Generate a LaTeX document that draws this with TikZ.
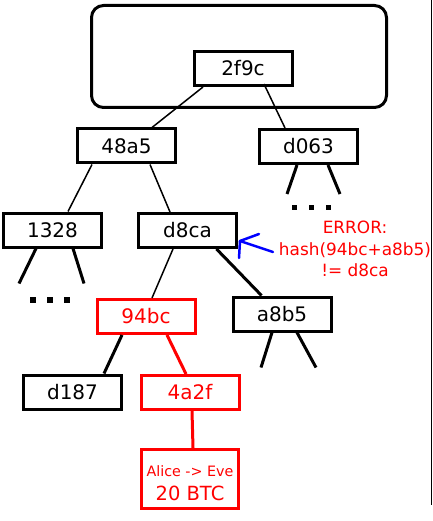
\documentclass[tikz,border=0pt]{standalone}
\usepackage{fontspec}
\setmainfont{DejaVu Sans}
\usetikzlibrary{calc}
\begin{document}
\begin{tikzpicture}[x=1pt,y=-1pt,
  box/.style={draw, line width=3pt, minimum width=98pt, minimum height=34pt, inner sep=0pt,
    font=\fontsize{20}{23}\selectfont},
  redbox/.style={box, draw=red, text=red},
  thinline/.style={line width=1.5pt},
  thickline/.style={line width=3pt},
  redline/.style={line width=3pt, red},
  dotsq/.style={fill=black, draw=none, minimum size=6pt, inner sep=0pt},
]
\useasboundingbox (0,0) rectangle (432,521);
% frame around root
\draw[line width=3pt, rounded corners=12pt] (91.5,5.5) rectangle (386.5,107.5);
\draw[line width=1pt] (431,0) -- (431,505);
% nodes
\node[box] (r) at (243,68.5) {2f9c};
\node[box] (a) at (126.5,146) {48a5};
\node[box] (b) at (308.5,146.5) {d063};
\node[box] (c) at (52.5,230) {1328};
\node[box] (d) at (187.5,230.5) {d8ca};
\node[redbox] (e) at (146,316.5) {94bc};
\node[box] (f) at (282,314) {a8b5};
\node[box] (g) at (72.5,392) {d187};
\node[redbox] (h) at (190,392.5) {4a2f};
\node[redbox, minimum width=97pt, minimum height=59pt] (t) at (190,479) {};
\node[text=red, align=center, inner sep=0pt, font=\fontsize{19.5}{24}\selectfont] (tt) at ($(t.center)+(0,4)$)
  {{\fontsize{14.3}{17}\selectfont Alice -> Eve}\\20 BTC};
\node[text=red, align=center, font=\fontsize{16.9}{21.5}\selectfont] (err) at (355,249)
  {ERROR:\\hash(94bc+a8b5)\\!= d8ca};
% edges
\draw[thinline] ($(r.south)+(-40,0)$) -- ($(a.north)+(25.5,0)$);
\draw[thinline] ($(r.south)+(21,-3)$) -- ($(b.north)+(-23.5,0)$);
\draw[thinline] ($(a.south)+(-34.5,0)$) -- ($(c.north)+(15.5,0)$);
\draw[thinline] ($(a.south)+(23.5,0)$) -- ($(d.north)+(-17.5,0)$);
\draw[thinline] ($(d.south)+(-14.5,0)$) -- ($(e.north)+(6,0)$);
\draw[thickline] ($(d.south)+(29,0)$) -- ($(f.north)+(-20.5,0)$);
\draw[thickline] ($(e.south)+(-24,0)$) -- ($(g.north)+(31.5,0)$);
\draw[redline] ($(e.south)+(21,0)$) -- ($(h.north)+(-4,0)$);
\draw[redline] ($(h.south)+(2,0)$) -- ($(t.north)+(3,0)$);
% unexpanded children
\draw[thickline] ($(c.south)+(-16.5,0)$) -- ++(-17,35);
\draw[thickline] ($(c.south)+(20.5,0)$) -- ++(11,35);
\draw[thickline] ($(b.south)+(-11.5,0)$) -- ++(-10,29);
\draw[thickline] ($(b.south)+(19.5,0)$) -- ++(12,29);
\draw[thickline] ($(f.south)+(-10,0)$) -- ++(-11,35);
\draw[thickline] ($(f.south)+(15,0)$) -- ++(19,35);
\node[dotsq] (c1) at (33,300) {};
\node[dotsq] (c2) at (50,300) {};
\node[dotsq] (c3) at (67,300) {};
\node[dotsq, minimum size=5pt] (b1) at (294,207) {};
\node[dotsq, minimum size=5pt] (b2) at (311,207) {};
\node[dotsq, minimum size=5pt] (b3) at (328,207) {};
% blue arrow
\coordinate (tip) at ($(d.east)+(2,10.5)$);
\draw[blue, line width=2.5pt, line cap=round] (tip) -- ++(19,-7);
\draw[blue, line width=2.5pt, line cap=round] (tip) -- ++(33,11);
\draw[blue, line width=2.5pt, line cap=round] (tip) -- ++(-1,17);
\end{tikzpicture}
\end{document}
